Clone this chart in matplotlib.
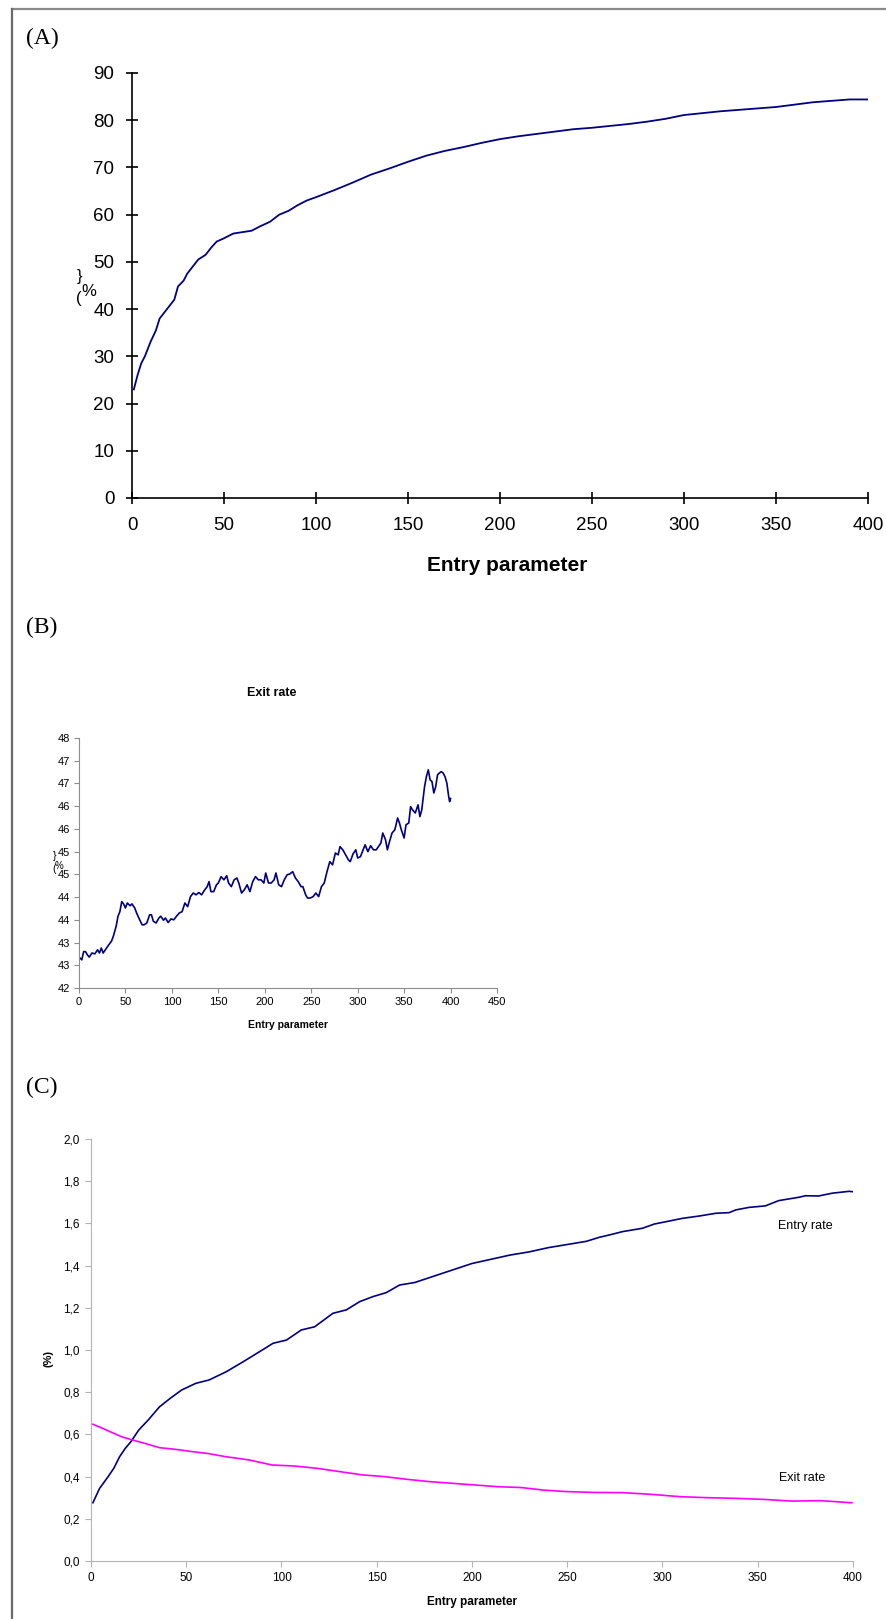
import matplotlib
matplotlib.use("Agg")
import matplotlib.pyplot as plt
from matplotlib.lines import Line2D
import numpy as np

# ---------------- data ----------------
# Panel A
a_x = [1, 3, 5, 7, 10, 13, 15, 18, 20, 23, 25, 28, 30, 33, 36, 40, 43, 46, 50, 55, 60, 65, 70,
       75, 80, 85, 90, 95, 100, 110, 120, 130, 140, 150, 160, 170, 180, 190, 200, 210, 220, 230,
       240, 250, 260, 270, 280, 290, 300, 310, 320, 330, 340, 350, 360, 370, 380, 390, 400]
a_y = [23.0, 26.0, 28.5, 30.0, 33.0, 35.5, 38.0, 39.5, 40.5, 42.0, 44.8, 46.0, 47.5, 49.0, 50.5,
       51.5, 53.0, 54.3, 55.0, 56.0, 56.3, 56.6, 57.6, 58.5, 60.0, 60.8, 62.0, 63.0, 63.7, 65.2,
       66.8, 68.5, 69.8, 71.2, 72.5, 73.5, 74.3, 75.2, 76.0, 76.6, 77.1, 77.6, 78.1, 78.4, 78.8,
       79.2, 79.7, 80.3, 81.1, 81.5, 81.9, 82.2, 82.5, 82.8, 83.3, 83.8, 84.1, 84.4, 84.4]
a_xticks = [0, 50, 100, 150, 200, 250, 300, 350, 400]
a_yticks = [0, 10, 20, 30, 40, 50, 60, 70, 80, 90]

# Panel B (exit rate)
b_x = [1, 3, 5, 7, 9, 11, 14, 17, 20, 22, 24, 26, 29, 32, 35, 37, 40, 42, 44, 46, 48, 50, 52, 55,
       57, 60, 62, 64, 66, 68, 70, 73, 76, 78, 80, 83, 86, 88, 91, 93, 96, 99, 102, 105, 108, 111,
       114, 117, 120, 123, 126, 129, 132, 135, 138, 140, 142, 145, 148, 150, 153, 156, 159, 161,
       164, 167, 170, 172, 175, 178, 181, 184, 187, 190, 193, 196, 199, 201, 204, 207, 210, 212,
       215, 218, 221, 224, 227, 230, 233, 236, 239, 241, 244, 246, 249, 252, 255, 258, 261, 264,
       267, 270, 273, 276, 279, 281, 284, 287, 290, 292, 295, 298, 300, 303, 306, 308, 311, 314,
       317, 320, 323, 325, 327, 330, 332, 334, 337, 340, 343, 345, 347, 350, 352, 355, 357, 359,
       362, 365, 367, 369, 372, 374, 376, 378, 380, 382, 384, 386, 388, 390, 392, 394, 396, 398,
       399, 400]
b_y = [42.66, 42.62, 42.80, 42.80, 42.73, 42.68, 42.77, 42.75, 42.84, 42.77, 42.88, 42.77, 42.86,
       42.95, 43.03, 43.14, 43.36, 43.58, 43.68, 43.90, 43.85, 43.76, 43.87, 43.81, 43.85, 43.76,
       43.65, 43.56, 43.47, 43.39, 43.39, 43.43, 43.61, 43.61, 43.47, 43.43, 43.54, 43.58, 43.49,
       43.54, 43.44, 43.52, 43.50, 43.58, 43.65, 43.68, 43.87, 43.79, 44.01, 44.09, 44.05, 44.10,
       44.05, 44.15, 44.23, 44.34, 44.12, 44.12, 44.27, 44.31, 44.45, 44.38, 44.47, 44.31, 44.23,
       44.38, 44.42, 44.31, 44.09, 44.16, 44.27, 44.12, 44.34, 44.45, 44.38, 44.38, 44.31, 44.53,
       44.31, 44.31, 44.38, 44.53, 44.27, 44.23, 44.38, 44.49, 44.51, 44.56, 44.42, 44.34, 44.23,
       44.23, 44.05, 43.98, 43.98, 44.01, 44.09, 44.01, 44.23, 44.31, 44.56, 44.78, 44.71, 44.97,
       44.93, 45.11, 45.04, 44.93, 44.82, 44.78, 44.95, 45.04, 44.86, 44.89, 45.05, 45.15, 45.00,
       45.13, 45.04, 45.04, 45.13, 45.19, 45.41, 45.26, 45.04, 45.20, 45.41, 45.48, 45.74, 45.63,
       45.48, 45.30, 45.59, 45.63, 45.99, 45.92, 45.85, 46.03, 45.77, 45.92, 46.43, 46.65, 46.80,
       46.58, 46.54, 46.29, 46.43, 46.69, 46.73, 46.76, 46.73, 46.65, 46.51, 46.21, 46.10, 46.17]
b_xticks = [0, 50, 100, 150, 200, 250, 300, 350, 400, 450]
b_yticks = [42.0, 42.5, 43.0, 43.5, 44.0, 44.5, 45.0, 45.5, 46.0, 46.5, 47.0, 47.5]
b_ytick_labels = ["42", "43", "43", "44", "44", "45", "45", "46", "46", "47", "47", "48"]

# Panel C
c_entry_x = [1, 4.5, 9, 12, 15, 18, 21, 25, 30, 36, 41.6, 47.5, 55, 62, 71, 80, 89, 95.6, 102.6,
             110.4, 117.4, 121, 127, 134, 141, 148, 155, 162, 170, 180, 190, 200, 210, 220, 230,
             240, 250, 260, 266.8, 272, 279, 289.5, 295.7, 301.8, 310.5, 319.3, 328, 335, 338.5,
             345.5, 354, 361, 371.7, 375, 382, 389, 397.9, 400]
c_entry_y = [0.276, 0.344, 0.40, 0.44, 0.494, 0.534, 0.566, 0.62, 0.668, 0.731, 0.771, 0.81, 0.842,
             0.858, 0.897, 0.945, 0.995, 1.032, 1.047, 1.095, 1.11, 1.134, 1.174, 1.19, 1.229,
             1.253, 1.272, 1.308, 1.32, 1.35, 1.38, 1.41, 1.43, 1.45, 1.465, 1.485, 1.50, 1.515,
             1.534, 1.545, 1.561, 1.577, 1.597, 1.608, 1.624, 1.635, 1.648, 1.651, 1.664, 1.676,
             1.683, 1.708, 1.724, 1.731, 1.73, 1.743, 1.752, 1.75]
c_exit_x = [1, 6, 12, 16, 22, 28, 36, 44.5, 53.5, 61, 71, 83, 95, 107, 119, 131, 142.5, 154, 166,
            178, 190, 202, 214, 226, 237.6, 249.5, 264, 279, 294, 309, 323.7, 338.5, 353, 368,
            383, 399.4]
c_exit_y = [0.648, 0.629, 0.605, 0.589, 0.573, 0.558, 0.537, 0.529, 0.518, 0.51, 0.494, 0.479,
            0.455, 0.45, 0.439, 0.423, 0.408, 0.40, 0.387, 0.376, 0.368, 0.36, 0.352, 0.348,
            0.336, 0.329, 0.325, 0.324, 0.316, 0.305, 0.30, 0.297, 0.292, 0.284, 0.286, 0.276]
c_xticks = [0, 50, 100, 150, 200, 250, 300, 350, 400]
c_yticks = [0.0, 0.2, 0.4, 0.6, 0.8, 1.0, 1.2, 1.4, 1.6, 1.8, 2.0]
c_ytick_labels = ["0,0", "0,2", "0,4", "0,6", "0,8", "1,0", "1,2", "1,4", "1,6", "1,8", "2,0"]

# ---------------- figure ----------------
W, H = 887, 1619
fig = plt.figure(figsize=(W / 100, H / 100), dpi=100)
plt.rcParams['font.family'] = ['Liberation Sans', 'DejaVu Sans']

NAVY = '#000080'
MAGENTA = '#ff00ff'


def box(x0, x1, y_bottom, y_top):
    return [x0 / W, 1 - y_bottom / H, (x1 - x0) / W, (y_bottom - y_top) / H]


def ftext(x, y, s, **kw):
    fig.text(x / W, 1 - y / H, s, **kw)


# frame
fig.add_artist(Line2D([12 / W, 1.0], [1 - 9 / H, 1 - 9 / H], color='#8a8a8a', lw=1.6))
fig.add_artist(Line2D([12 / W, 12 / W], [1 - 9 / H, 0.0], color='#6a6a6a', lw=1.6))

# panel labels
for lbl, yy in [("(A)", 38), ("(B)", 627), ("(C)", 1087)]:
    ftext(26, yy, lbl, family='Liberation Serif', fontsize=17, va='center', ha='left')

# ---- Panel A ----
axA = fig.add_axes(box(132, 868, 498, 73))
axA.plot(a_x, a_y, color=NAVY, lw=1.3)
axA.set_xlim(0, 400)
axA.set_ylim(0, 90)
axA.set_xticks(a_xticks)
axA.set_yticks(a_yticks)
for s in ['top', 'right']:
    axA.spines[s].set_visible(False)
for s in ['left', 'bottom']:
    axA.spines[s].set_linewidth(1.2)
    axA.spines[s].set_color('black')
axA.tick_params(direction='inout', length=8.5, width=1.2, labelsize=13.5)
axA.tick_params(axis='x', pad=9.5)
axA.tick_params(axis='y', pad=8.5)
axA.set_xlabel("Entry parameter", fontsize=15, fontweight='bold', labelpad=16)
axA.xaxis.label.set_position((0.51, 0))
ftext(80, 276, "}", fontsize=12, ha='center', va='center')
ftext(79, 298, "(", fontsize=12, ha='center', va='center')
ftext(89, 291, "%", fontsize=12, ha='center', va='center')

# ---- Panel B ----
axB = fig.add_axes(box(79, 497, 988, 738))
axB.plot(b_x, b_y, color=NAVY, lw=1.2)
axB.set_xlim(0, 450)
axB.set_ylim(42, 47.5)
axB.set_xticks(b_xticks)
axB.set_yticks(b_yticks)
axB.set_yticklabels(b_ytick_labels)
for s in ['top', 'right']:
    axB.spines[s].set_visible(False)
for s in ['left', 'bottom']:
    axB.spines[s].set_linewidth(0.8)
    axB.spines[s].set_color('#8c8c8c')
axB.tick_params(direction='out', length=3.5, width=0.8, color='#8c8c8c', labelsize=8, pad=3)
ftext(272, 693, "Exit rate", fontsize=9, fontweight='bold', ha='center', va='center')
ftext(288, 1025, "Entry parameter", fontsize=7.5, fontweight='bold', ha='center', va='center')
ftext(55, 856, "}", fontsize=7.5, ha='center', va='center')
ftext(54, 869, "(", fontsize=7.5, ha='center', va='center')
ftext(59, 866, "%", fontsize=7, ha='center', va='center')

# ---- Panel C ----
axC = fig.add_axes(box(91, 853, 1561, 1139))
axC.plot(c_entry_x, c_entry_y, color=NAVY, lw=1.2)
axC.plot(c_exit_x, c_exit_y, color=MAGENTA, lw=1.2)
axC.set_xlim(0, 400)
axC.set_ylim(0, 2.0)
axC.set_xticks(c_xticks)
axC.set_yticks(c_yticks)
axC.set_yticklabels(c_ytick_labels)
for s in ['top', 'right']:
    axC.spines[s].set_visible(False)
for s in ['left', 'bottom']:
    axC.spines[s].set_linewidth(0.8)
    axC.spines[s].set_color('#b4b4b4')
axC.tick_params(direction='out', length=4, width=0.8, color='#b4b4b4', labelsize=8.5, pad=4)
ftext(472, 1602, "Entry parameter", fontsize=8.5, fontweight='bold', ha='center', va='center')
ftext(49, 1358, "(%)", fontsize=8, fontweight='bold', ha='center', va='center', rotation=90)
ftext(805, 1226, "Entry rate", fontsize=9, ha='center', va='center')
ftext(802, 1478, "Exit rate", fontsize=9, ha='center', va='center')

fig.savefig("out.png", dpi=100)
